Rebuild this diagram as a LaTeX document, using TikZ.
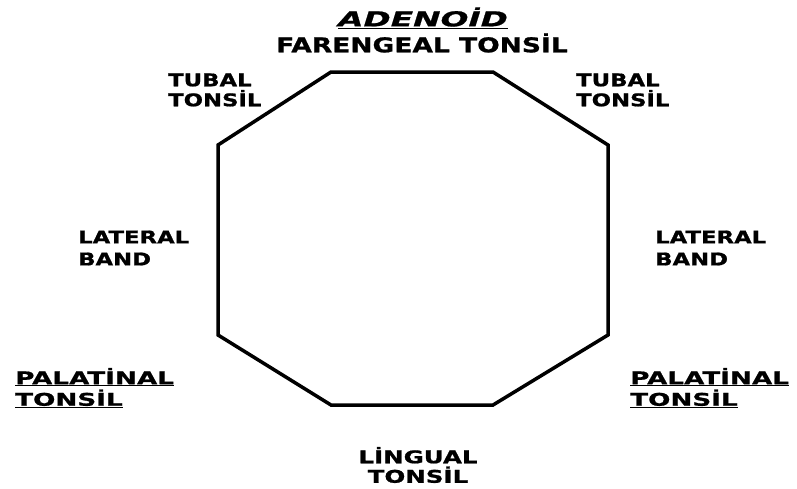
\documentclass[tikz,border=0pt]{standalone}
\usepackage{fontspec}
\newfontfamily\lblfont[FakeStretch=1.3, FakeBold=1]{DejaVu Sans Bold}
\newfontfamily\widefont[FakeStretch=1.5, FakeBold=1]{DejaVu Sans Bold}
\newfontfamily\lingfont[FakeStretch=1.4, FakeBold=1]{DejaVu Sans Bold}
\newfontfamily\lblitfont[FakeStretch=1.6, FakeBold=1]{DejaVu Sans Bold Oblique}
\usetikzlibrary{positioning}

\tikzset{
    lbl/.style={inner sep=0pt, align=left, font=\lblfont\fontsize{17.5}{20}\selectfont},
    lblc/.style={lbl, align=center},
    outline/.style={line width=3.5pt, line join=miter}
}

\begin{document}
\begin{tikzpicture}[x=1pt, y=-1pt]
    \useasboundingbox (0,0) rectangle (797,488);
    % octagon
    \coordinate (p1) at (331,72);
    \coordinate (p2) at (493,72);
    \coordinate (p3) at (608,145);
    \coordinate (p4) at (608,335);
    \coordinate (p5) at (493,405);
    \coordinate (p6) at (331,405);
    \coordinate (p7) at (218,335);
    \coordinate (p8) at (218,145);
    \draw[outline] (p1) -- (p2) -- (p3) -- (p4) -- (p5) -- (p6) -- (p7) -- (p8) -- cycle;
    % titles
    \node[lblc, font=\lblitfont\fontsize{20.5}{22}\selectfont] (adenoid) at (423,18) {\underline{ADENOİD}};
    \node[lblc, font=\lblfont\fontsize{20.4}{22}\selectfont] (farengeal) at (422,43) {FARENGEAL TONSİL};
    % side labels
    \node[lbl, anchor=west] (tubalL) at (168,90) {TUBAL\\TONSİL};
    \node[lbl, anchor=west] (tubalR) at (576,90) {TUBAL\\TONSİL};
    \node[lbl, anchor=west, font=\lblfont\fontsize{17.5}{22}\selectfont] (lateralL) at (78,248) {LATERAL\\BAND};
    \node[lbl, anchor=west, font=\lblfont\fontsize{17.5}{22}\selectfont] (lateralR) at (655,248) {LATERAL\\BAND};
    \node[lbl, anchor=west, font=\widefont\fontsize{17.5}{21.5}\selectfont] (palatinalL) at (15,388) {\underline{PALATİNAL}\\\underline{TONSİL}};
    \node[lbl, anchor=west, font=\widefont\fontsize{17.5}{21.5}\selectfont] (palatinalR) at (630,388) {\underline{PALATİNAL}\\\underline{TONSİL}};
    \node[lblc, font=\lingfont\fontsize{17.5}{19.5}\selectfont] (lingual) at (418,465) {LİNGUAL\\TONSİL};
\end{tikzpicture}
\end{document}
